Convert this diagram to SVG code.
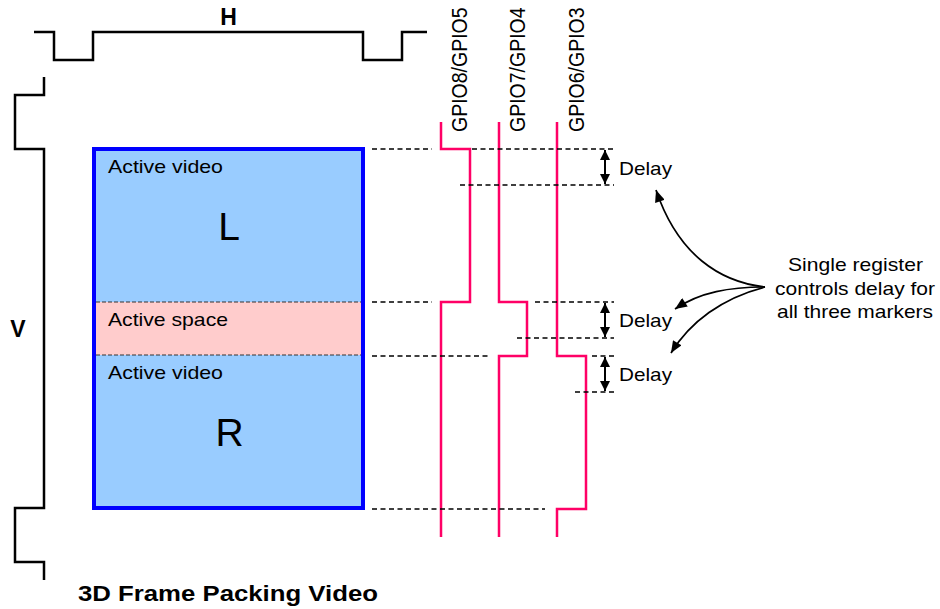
<svg xmlns="http://www.w3.org/2000/svg" width="940" height="609" viewBox="0 0 940 609">
<style>
text{font-family:"Liberation Sans",Arial,sans-serif;fill:#000}
.bk{fill:none;stroke:#000;stroke-width:2.5;stroke-linejoin:miter}
.sig{fill:none;stroke:#FF0066;stroke-width:2.5}
.dash{stroke:#000;stroke-width:1.4;stroke-dasharray:5 3.5;fill:none}
.idash{stroke:#333;stroke-width:1;stroke-dasharray:4 2;fill:none}
.arr{stroke:#000;stroke-width:2;fill:none;marker-start:url(#ah);marker-end:url(#ah)}
.cur{stroke:#000;stroke-width:1.7;fill:none;marker-end:url(#ch)}
.lbl{font-size:19px}
.dl{font-size:19px}
.gp{font-size:19.5px}
</style>
<defs>
<marker id="ah" viewBox="0 0 10 10" refX="10" refY="5" markerWidth="10" markerHeight="10" markerUnits="userSpaceOnUse" orient="auto-start-reverse"><path d="M0,0 L10,5 L0,10 z" fill="#000"/></marker>
<marker id="ch" viewBox="0 0 12 10" refX="12" refY="5" markerWidth="13" markerHeight="10" markerUnits="userSpaceOnUse" orient="auto"><path d="M0,0 L12,5 L0,10 z" fill="#000"/></marker>
</defs>
<rect width="940" height="609" fill="#fff"/>
<g id="h-timing">
<path class="bk" d="M34,32 H54 V60 H93 V32 H363 V60 H402 V32 H427"/>
<text x="228.5" y="24.5" font-size="23" font-weight="bold" text-anchor="middle">H</text>
</g>
<g id="v-timing">
<path class="bk" d="M44,77 V95 H15 V149 H44 V508 H15 V562 H44 V580"/>
<text x="18" y="337" font-size="23" font-weight="bold" text-anchor="middle">V</text>
</g>
<g id="frame">
<rect x="94" y="149" width="269" height="153" fill="#99CCFF"/>
<rect x="94" y="302" width="269" height="53" fill="#FFCCCC"/>
<rect x="94" y="355" width="269" height="153" fill="#99CCFF"/>
<line class="idash" x1="96" y1="302" x2="361" y2="302"/>
<line class="idash" x1="96" y1="355" x2="361" y2="355"/>
<rect x="94" y="149" width="269" height="359" fill="none" stroke="#0000FF" stroke-width="4"/>
<text class="lbl" x="108" y="173" textLength="115" lengthAdjust="spacingAndGlyphs">Active video</text>
<text x="229" y="240" font-size="39" text-anchor="middle">L</text>
<text class="lbl" x="108" y="326" textLength="120" lengthAdjust="spacingAndGlyphs">Active space</text>
<text class="lbl" x="108" y="379" textLength="115" lengthAdjust="spacingAndGlyphs">Active video</text>
<text x="229.5" y="446" font-size="39" text-anchor="middle">R</text>
</g>
<g id="gpio8">
<path class="sig" d="M441,122 V149 H470 V302 H441 V537"/>
<text class="gp" transform="translate(467,132) scale(1.15,1) rotate(-90)">GPIO8/GPIO5</text>
</g>
<g id="gpio7">
<path class="sig" d="M499,122 V302 H527 V356 H499 V537"/>
<text class="gp" transform="translate(525,132) scale(1.15,1) rotate(-90)">GPIO7/GPIO4</text>
</g>
<g id="gpio6">
<path class="sig" d="M557,122 V356 H586 V509 H557 V537"/>
<text class="gp" transform="translate(584,132) scale(1.15,1) rotate(-90)">GPIO6/GPIO3</text>
</g>
<g id="connectors">
<line class="dash" x1="372" y1="149" x2="432" y2="149"/>
<line class="dash" x1="472" y1="149" x2="614" y2="149"/>
<line class="dash" x1="460" y1="185" x2="614" y2="185"/>
<line class="dash" x1="372" y1="302" x2="432" y2="302"/>
<line class="dash" x1="535" y1="302" x2="614" y2="302"/>
<line class="dash" x1="517" y1="338" x2="614" y2="338"/>
<line class="dash" x1="372" y1="356" x2="490" y2="356"/>
<line class="dash" x1="592" y1="356" x2="614" y2="356"/>
<line class="dash" x1="575" y1="392" x2="616" y2="392"/>
<line class="dash" x1="372" y1="509" x2="545" y2="509"/>
<line class="arr" x1="605" y1="150" x2="605" y2="184"/>
<line class="arr" x1="605" y1="303" x2="605" y2="337"/>
<line class="arr" x1="605" y1="357" x2="605" y2="391"/>
<path class="cur" d="M765,287 C720,282 678,255 656,190"/>
<path class="cur" d="M765,287 C730,287 700,292 675,309"/>
<path class="cur" d="M765,287 C722,298 690,322 671,353"/>
</g>
<g id="delay-labels">
<text class="dl" x="619" y="175" textLength="53" lengthAdjust="spacingAndGlyphs">Delay</text>
<text class="dl" x="619" y="327" textLength="53" lengthAdjust="spacingAndGlyphs">Delay</text>
<text class="dl" x="619" y="381" textLength="53" lengthAdjust="spacingAndGlyphs">Delay</text>
</g>
<g id="note">
<text class="lbl" x="855.5" y="271" text-anchor="middle" textLength="135" lengthAdjust="spacingAndGlyphs">Single register</text>
<text class="lbl" x="855" y="294.5" text-anchor="middle" textLength="160" lengthAdjust="spacingAndGlyphs">controls delay for</text>
<text class="lbl" x="855" y="318" text-anchor="middle" textLength="156" lengthAdjust="spacingAndGlyphs">all three markers</text>
</g>
<text x="78" y="601" font-size="21.5" font-weight="bold" textLength="300" lengthAdjust="spacingAndGlyphs">3D Frame Packing Video</text>
</svg>
